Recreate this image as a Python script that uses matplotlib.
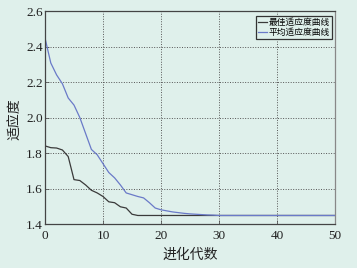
import numpy as np
import matplotlib.pyplot as plt

# generations and fitness curves
gen = list(range(0, 51))
best = [1.84, 1.83, 1.828, 1.817, 1.78, 1.65, 1.645, 1.62, 1.59, 1.575,
        1.555, 1.525, 1.52, 1.497, 1.49, 1.455] + [1.448] * 35
mean = [2.448, 2.307, 2.24, 2.19, 2.11, 2.07, 2.0, 1.91, 1.82, 1.79,
        1.74, 1.69, 1.66, 1.62, 1.575, 1.565, 1.555, 1.547, 1.52, 1.49,
        1.48, 1.474, 1.468, 1.464, 1.46, 1.457, 1.455, 1.453, 1.451, 1.45] + [1.448] * 21

labels = ['最佳适应度曲线', '平均适应度曲线']
xlabel = '进化代数'
ylabel = '适应度'

BG = '#dff0eb'
cjk = ['Noto Sans CJK SC', 'DejaVu Sans']

fig = plt.figure(figsize=(3.57, 2.68), dpi=100, facecolor=BG)
ax = fig.add_axes([45 / 357, 1 - 224 / 268, 290 / 357, 213 / 268])
ax.set_facecolor(BG)

ax.plot(gen, best, color='#3a3a3a', linewidth=0.9, label=labels[0])
ax.plot(gen, mean, color='#6a7ac8', linewidth=0.9, label=labels[1])

ax.set_xlim(0, 50)
ax.set_ylim(1.4, 2.6)
ax.set_xticks(np.arange(0, 51, 10))
ax.set_yticks(np.arange(1.4, 2.61, 0.2))
ax.yaxis.set_major_formatter(plt.FuncFormatter(lambda v, _: f'{v:.1f}'))
for lab in ax.get_xticklabels() + ax.get_yticklabels():
    lab.set_family('Liberation Serif')
    lab.set_fontsize(9.5)
    lab.set_color('#222222')
ax.tick_params(direction='in', length=3, width=0.6, colors='#555555',
               labelcolor='#222222')
ax.tick_params(axis='y', pad=1.5)
ax.tick_params(axis='x', pad=4)
ax.grid(True, linestyle=(0, (1.0, 1.6)), color='#555555', linewidth=0.7)

for side in ['left', 'bottom', 'top']:
    ax.spines[side].set_color('#444444')
    ax.spines[side].set_linewidth(0.9)
ax.spines['right'].set_color('#888888')
ax.spines['right'].set_linewidth(0.9)

ax.set_xlabel(xlabel, family=cjk, fontsize=10, color='#222222')
ax.set_ylabel(ylabel, family=cjk, fontsize=10, color='#222222')
ax.xaxis.set_label_coords(0.5, -0.112)
ax.yaxis.set_label_coords(-0.078, 0.49)

leg = ax.legend(loc='upper right', bbox_to_anchor=(0.995, 0.985),
                prop={'family': cjk, 'size': 6.3},
                handlelength=1.0, handletextpad=0.2, labelspacing=0.05,
                borderpad=0.25, borderaxespad=0.2, fancybox=False,
                frameon=True, framealpha=1)
leg.get_frame().set_edgecolor('#333333')
leg.get_frame().set_facecolor(BG)
leg.get_frame().set_linewidth(0.9)

fig.savefig('out.png', dpi=100, facecolor=BG)
